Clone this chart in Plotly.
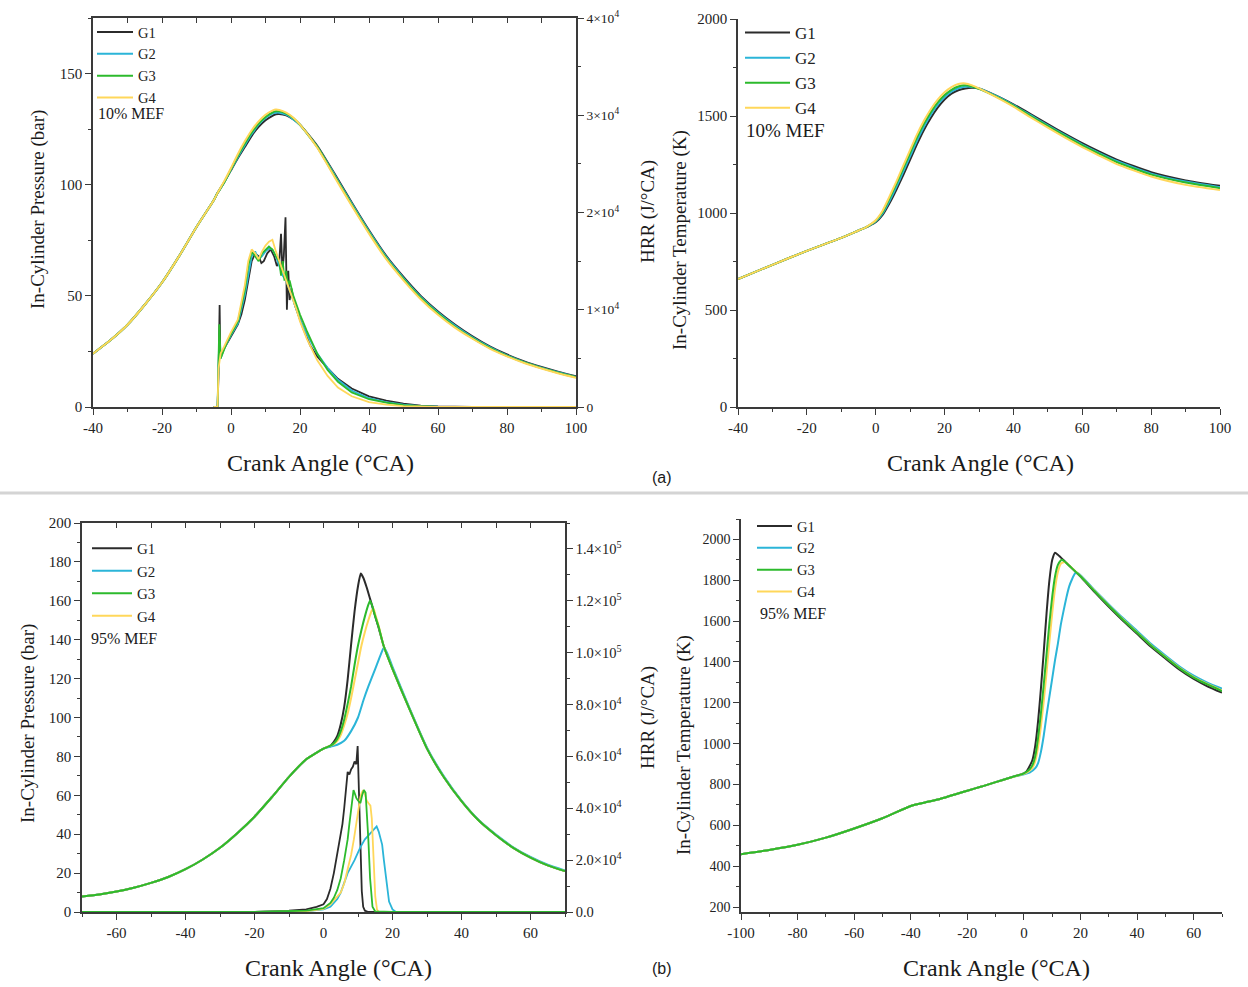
import plotly.graph_objects as go

# ---------------- DATA ----------------
SERIES = ["G1", "G2", "G3", "G4"]
COLORS = {"G1": "#2b2b2b", "G2": "#2bb5d8", "G3": "#2cba2c", "G4": "#ffd75a"}

# (a) 10% MEF - pressure (bar)
ca_p10 = [-40, -35, -30, -25, -20, -15, -10, -5, -4, -2, 0, 2, 4, 6, 8, 10, 12, 13, 14, 16, 18, 20,
          25, 30, 35, 40, 45, 50, 55, 60, 65, 70, 75, 80, 85, 90, 95, 100]
p10_G1 = [24, 30, 37, 46, 56, 68, 81, 93, 96, 101, 106.5, 112, 117, 122, 126, 129, 131, 131.7, 131.8, 131.2, 129.5, 127,
          117.5, 105, 92, 79.5, 68, 58.5, 50, 43, 37, 31.8, 27.3, 23.6, 20.5, 18, 15.8, 13.8]
p10_G2 = [24, 30, 37, 46, 56, 68, 81, 93, 96, 101, 106.8, 112.5, 117.8, 122.8, 127, 130, 132, 132.4, 132.4, 131.5, 129.5, 126.8,
          117, 104.5, 91.5, 79, 67.5, 58, 49.5, 42.5, 36.5, 31.3, 26.9, 23.2, 20.2, 17.7, 15.5, 13.5]
p10_G3 = [24, 30, 37, 46, 56, 68, 81, 93, 96, 101, 107, 113, 118.5, 123.5, 127.5, 130.5, 132.5, 133, 133, 132, 130, 127,
          117, 104, 91, 78.5, 67, 57.5, 49, 42, 36, 31, 26.6, 23, 20, 17.5, 15.3, 13.4]
p10_G4 = [24, 30, 37, 46, 56, 68, 81, 93, 96, 101.5, 107.5, 113.8, 119.5, 124.5, 128.5, 131.5, 133.3, 133.8, 133.6, 132.4, 130.2, 127,
          116.6, 103.5, 90.5, 78, 66.5, 57, 48.5, 41.5, 35.6, 30.7, 26.3, 22.8, 19.8, 17.3, 15.1, 13.2]

# (a) 10% MEF - heat release rate (J/degCA)
ca_h10_G1 = [-5, -3.9, -3.6, -3.3, -3.1, -2.8, -2, -1, 0, 1, 2, 3, 4, 5, 6, 7, 8, 8.8, 9.5, 10.5, 11.5, 12.5, 13.3,
             14, 14.5, 14.9, 15.3, 15.8, 16.2, 16.6, 17, 17.5, 18.5, 19.5, 21, 23, 25, 28, 31, 35, 40, 45, 50, 55,
             60, 70, 80, 100]
h10_G1 = [0, 0, 3500, 10500, 5000, 5500, 6000, 6600, 7200, 7800, 8500, 9500, 11000, 13000, 15000, 15800, 15500,
          14800, 15000, 15800, 16200, 15500, 14500, 15000, 17800, 14000, 15500, 19500, 10000, 14000, 11000, 12200,
          10500, 9500, 8000, 6300, 5200, 4000, 2900, 1900, 1100, 650, 350, 150, 50, 0, 0, 0]
ca_h10_G2 = [-5, -3.9, -3.5, -3, -2, -1, 0, 2, 4, 5, 6, 7, 8, 9, 10, 11, 12, 13, 14, 15, 16, 17, 18, 19, 20, 22,
             25, 28, 31, 35, 40, 45, 50, 55, 60, 70, 100]
h10_G2 = [0, 0, 6000, 5000, 6000, 6700, 7400, 8600, 11500, 13500, 15500, 16000, 15200, 15500, 16000, 16300,
          16200, 15500, 14500, 13500, 13000, 12000, 11000, 10000, 9000, 7500, 5500, 4000, 2800, 1700, 900, 500,
          250, 100, 30, 0, 0]
ca_h10_G3 = [-5, -3.9, -3.6, -3.4, -3, -2, -1, 0, 2, 4, 5, 6, 7, 8, 9, 10, 11, 12, 13, 14, 14.5, 15, 15.5, 16,
             16.5, 17, 18, 19, 20, 22, 25, 28, 31, 35, 40, 45, 50, 55, 60, 70, 100]
h10_G3 = [0, 0, 5000, 8500, 5000, 6000, 6800, 7500, 8800, 12000, 14500, 16000, 15500, 15000, 15800, 16200, 16500,
          16200, 15500, 15000, 13500, 15000, 13000, 14000, 12500, 13000, 11500, 10500, 9500, 7800, 5500, 3800,
          2600, 1500, 800, 450, 200, 80, 20, 0, 0]
ca_h10_G4 = [-5, -3.9, -3.6, -3, -2, -1, 0, 2, 4, 5, 6, 7, 8, 9, 10, 11, 12, 13, 14, 15, 16, 17, 18, 19, 20, 22,
             25, 28, 31, 35, 40, 45, 50, 55, 60, 70, 100]
h10_G4 = [0, 0, 4000, 5500, 6200, 7000, 7700, 9000, 12500, 15000, 16200, 15800, 15200, 16000, 16600, 17000, 17200,
          16000, 15000, 14200, 13000, 12200, 11000, 10000, 8800, 7000, 4800, 3200, 2000, 1100, 500, 250, 100, 40,
          10, 0, 0]

# (a) 10% MEF - temperature (K)
ca_t10 = [-40, -30, -20, -10, -5, -3, -2, 0, 2, 4, 6, 8, 10, 12, 14, 16, 18, 20, 22, 24, 26, 28, 30, 35, 40, 45, 50,
          55, 60, 65, 70, 80, 90, 100]
t10_G1 = [660, 733, 805, 872, 910, 925, 933, 952, 990, 1050, 1120, 1195, 1275, 1355, 1428, 1490, 1543, 1585, 1615,
          1633, 1642, 1645, 1642, 1605, 1560, 1510, 1458, 1408, 1360, 1316, 1275, 1210, 1168, 1140]
t10_G2 = [660, 733, 805, 872, 910, 925, 934, 956, 998, 1062, 1135, 1213, 1293, 1373, 1445, 1507, 1558, 1598, 1626,
          1643, 1651, 1650, 1642, 1603, 1556, 1504, 1452, 1401, 1353, 1309, 1268, 1203, 1162, 1133]
t10_G3 = [660, 733, 805, 872, 910, 925, 935, 960, 1005, 1075, 1150, 1230, 1310, 1390, 1460, 1520, 1570, 1608, 1635,
          1652, 1658, 1652, 1640, 1600, 1553, 1500, 1448, 1397, 1348, 1304, 1262, 1198, 1157, 1128]
t10_G4 = [660, 733, 805, 872, 910, 925, 936, 963, 1012, 1085, 1162, 1244, 1325, 1405, 1475, 1535, 1584, 1622, 1649,
          1665, 1668, 1658, 1642, 1597, 1548, 1493, 1440, 1389, 1340, 1295, 1252, 1188, 1145, 1118]

# (b) 95% MEF - pressure (bar)
ca_p95_G1 = [-70, -65, -60, -55, -50, -45, -40, -35, -30, -25, -20, -15, -10, -5, 0, 2, 3, 4, 5, 6, 7, 8, 9, 10,
             10.8, 11.5, 12.5, 13.5, 15, 16, 17.4, 20, 25, 30, 35, 40, 45, 50, 55, 60, 65, 70]
p95_G1 = [8, 9, 10.5, 12.5, 15, 18, 22, 27, 33, 40.5, 49, 59, 69.5, 78.5, 84, 85.5, 87.5, 90.5, 96.5, 105.5, 119.5,
          137.5, 154.5, 167.5, 174, 172, 167, 161, 152, 146, 137, 125, 104, 84, 69, 57, 47, 39.5, 33, 28, 24, 21]
ca_p95_G2 = [-70, -65, -60, -55, -50, -45, -40, -35, -30, -25, -20, -15, -10, -5, 0, 2, 4, 6, 8, 10, 11.6, 13, 15,
             16.5, 17.5, 18.5, 20, 25, 30, 35, 40, 45, 50, 55, 60, 65, 70]
p95_G2 = [8, 9, 10.5, 12.5, 15, 18, 22, 27, 33, 40.5, 49, 59, 69.5, 78.5, 84, 85, 86, 88, 93, 100, 109, 116, 125,
          132, 136, 133, 126, 104.5, 84.5, 69.5, 57.3, 47.3, 39.8, 33.3, 28.3, 24.3, 21.3]
ca_p95_G3 = [-70, -65, -60, -55, -50, -45, -40, -35, -30, -25, -20, -15, -10, -5, 0, 2, 3, 4, 5, 6, 7, 8, 9, 10, 11,
             12, 13, 13.5, 14, 15, 16, 17.4, 20, 25, 30, 35, 40, 45, 50, 55, 60, 65, 70]
p95_G3 = [8, 9, 10.5, 12.5, 15, 18, 22, 27, 33, 40.5, 49, 59, 69.5, 78.5, 84, 85.5, 86.8, 89, 93, 99, 107, 116, 127,
          137, 145, 152, 158, 160, 158, 152, 146.5, 137, 125, 104, 84, 69, 57, 47, 39.5, 33, 28, 24, 21]
ca_p95_G4 = [-70, -65, -60, -55, -50, -45, -40, -35, -30, -25, -20, -15, -10, -5, 0, 2, 3, 4, 5, 6, 7, 8, 9, 10, 11,
             12, 13, 14, 14.5, 15, 16, 17.4, 20, 25, 30, 35, 40, 45, 50, 55, 60, 65, 70]
p95_G4 = [8, 9, 10.5, 12.5, 15, 18, 22, 27, 33, 40.5, 49, 59, 69.5, 78.5, 84, 85.5, 86.3, 88, 91, 96, 102, 110, 119,
          128, 137, 144, 150, 155, 156, 153, 147, 137, 125, 104, 84, 69, 57, 47, 39.5, 33, 28, 24, 21]

# (b) 95% MEF - heat release rate (J/degCA)
ca_h95_G1 = [-70, -20, -10, -5, -2, 0, 1, 2, 3, 4, 5, 5.5, 6, 6.5, 7, 7.5, 8, 8.5, 9, 9.5, 9.9, 10.3, 10.7, 11.1,
             11.5, 12, 13, 20, 40, 70]
h95_G1 = [0, 0, 500, 1000, 2000, 3000, 5000, 9000, 15000, 22000, 30000, 34000, 40000, 48000, 54000, 53000, 55000,
          56000, 58000, 57000, 64000, 45000, 21000, 8000, 2000, 500, 0, 0, 0, 0]
ca_h95_G2 = [-70, -20, -5, 0, 2, 4, 5, 7, 9, 10.7, 12, 13.6, 14.5, 15.4, 16, 16.5, 17, 17.5, 18, 18.5, 19, 20, 21,
             40, 70]
h95_G2 = [0, 0, 300, 1000, 2000, 5000, 7500, 15000, 20000, 25000, 28000, 30500, 32000, 33000, 31000, 28000, 26000,
          20000, 14000, 8500, 4000, 1000, 0, 0, 0]
ca_h95_G3 = [-70, -20, -5, 0, 2, 3, 4, 5, 6, 7, 7.5, 8, 8.4, 8.7, 9, 9.5, 10, 10.7, 11.2, 11.7, 12.2, 12.6, 13,
             13.5, 14.2, 15, 20, 40, 70]
h95_G3 = [0, 0, 500, 1500, 3500, 5500, 8500, 13000, 20000, 28000, 34000, 40000, 45000, 47000, 46000, 44000, 43000,
          42000, 45000, 47000, 46000, 38000, 28000, 13000, 2000, 200, 0, 0, 0]
ca_h95_G4 = [-70, -20, -5, 0, 2, 4, 5, 6, 7, 8, 8.8, 9.5, 10, 10.7, 11.1, 11.5, 12, 12.5, 13, 13.6, 14, 14.5, 15,
             15.5, 16, 20, 40, 70]
h95_G4 = [0, 0, 300, 1200, 3000, 6000, 7500, 11000, 16000, 22000, 28000, 34000, 39000, 44500, 46000, 47000, 45500,
          43000, 42000, 41000, 36000, 22000, 6000, 1000, 0, 0, 0, 0]

# (b) 95% MEF - temperature (K)
ca_t95_G1 = [-100, -90, -80, -70, -60, -50, -40, -35, -30, -20, -15, -10, -5, 0, 1, 2, 3, 4, 5, 6, 7, 8, 9, 10, 11,
             12, 15, 18, 20, 25, 30, 35, 40, 45, 50, 55, 60, 65, 70]
t95_G1 = [459, 480, 505, 540, 585, 635, 695, 712, 728, 770, 790, 812, 833, 855, 865, 890, 920, 990, 1110, 1270, 1450,
          1640, 1800, 1900, 1935, 1925, 1885, 1845, 1818, 1742, 1670, 1602, 1538, 1473, 1417, 1362, 1317, 1280, 1250]
ca_t95_G2 = [-100, -90, -80, -70, -60, -50, -40, -35, -30, -20, -15, -10, -5, 0, 2, 4, 5, 6, 7, 8, 9, 10, 11, 12,
             13, 14, 15, 16, 17, 18, 18.5, 20, 25, 30, 35, 40, 45, 50, 55, 60, 65, 70]
t95_G2 = [459, 480, 505, 540, 585, 635, 695, 712, 728, 770, 790, 812, 833, 850, 858, 880, 905, 960, 1040, 1140,
          1230, 1320, 1410, 1490, 1580, 1650, 1715, 1770, 1805, 1832, 1838, 1825, 1752, 1682, 1615, 1552, 1488, 1432,
          1378, 1333, 1298, 1270]
ca_t95_G3 = [-100, -90, -80, -70, -60, -50, -40, -35, -30, -20, -15, -10, -5, 0, 2, 3, 4, 5, 6, 7, 8, 9, 10, 11,
             12, 13, 13.4, 15, 18, 20, 25, 30, 35, 40, 45, 50, 55, 60, 65, 70]
t95_G3 = [459, 480, 505, 540, 585, 635, 695, 712, 728, 770, 790, 812, 833, 855, 875, 895, 940, 1030, 1150, 1290,
          1440, 1590, 1720, 1820, 1875, 1897, 1900, 1885, 1845, 1820, 1746, 1675, 1607, 1543, 1479, 1423, 1369, 1324,
          1289, 1258]
ca_t95_G4 = [-100, -90, -80, -70, -60, -50, -40, -35, -30, -20, -15, -10, -5, 0, 2, 3, 4, 5, 6, 7, 8, 9, 10, 11,
             12, 13, 14.3, 15, 18, 20, 25, 30, 35, 40, 45, 50, 55, 60, 65, 70]
t95_G4 = [459, 480, 505, 540, 585, 635, 695, 712, 728, 770, 790, 812, 833, 853, 868, 882, 915, 985, 1085, 1210,
          1350, 1500, 1640, 1760, 1840, 1880, 1890, 1885, 1846, 1821, 1748, 1677, 1609, 1545, 1481, 1425, 1371, 1326,
          1291, 1260]

# Tick labels
ca10_tickvals = [-40, -20, 0, 20, 40, 60, 80, 100]
ca10_ticktext = ["-40", "-20", "0", "20", "40", "60", "80", "100"]
ca95p_tickvals = [-60, -40, -20, 0, 20, 40, 60]
ca95p_ticktext = ["-60", "-40", "-20", "0", "20", "40", "60"]
ca95t_tickvals = [-100, -80, -60, -40, -20, 0, 20, 40, 60]
ca95t_ticktext = ["-100", "-80", "-60", "-40", "-20", "0", "20", "40", "60"]
hrr10_tickvals = [0, 10000, 20000, 30000, 40000]
hrr10_ticktext = ["0", "1×10<sup>4</sup>", "2×10<sup>4</sup>", "3×10<sup>4</sup>", "4×10<sup>4</sup>"]
hrr95_tickvals = [0, 20000, 40000, 60000, 80000, 100000, 120000, 140000]
hrr95_ticktext = ["0.0", "2.0×10<sup>4</sup>", "4.0×10<sup>4</sup>", "6.0×10<sup>4</sup>", "8.0×10<sup>4</sup>",
                  "1.0×10<sup>5</sup>", "1.2×10<sup>5</sup>", "1.4×10<sup>5</sup>"]

# ---------------- FIGURE ----------------
W, H = 1248, 987
def px(x):
    return x / W
def py(y):
    return 1 - y / H

SERIF = "Liberation Serif"
AX = "#3a3a3a"

fig = go.Figure()

def line(x, y, xa, ya, name, legend, show, rank, width=2, shape="spline"):
    fig.add_trace(go.Scatter(x=x, y=y, xaxis=xa, yaxis=ya, mode="lines", name=name,
                             line=dict(color=COLORS[name], width=width, shape=shape, smoothing=0.5),
                             legend=legend, showlegend=show, legendrank=rank, hoverinfo="skip"))

# Panel (a) left
p10 = {"G1": p10_G1, "G2": p10_G2, "G3": p10_G3, "G4": p10_G4}
h10 = {"G1": (ca_h10_G1, h10_G1), "G2": (ca_h10_G2, h10_G2), "G3": (ca_h10_G3, h10_G3), "G4": (ca_h10_G4, h10_G4)}
for i, s in enumerate(SERIES):
    line(ca_p10, p10[s], "x", "y", s, "legend", True, i + 1)
for i, s in enumerate(SERIES):
    line(h10[s][0], h10[s][1], "x", "y2", s, "legend", False, i + 1, 1.8, "linear")

# Panel (a) right
t10 = {"G1": t10_G1, "G2": t10_G2, "G3": t10_G3, "G4": t10_G4}
for i, s in enumerate(SERIES):
    line(ca_t10, t10[s], "x2", "y3", s, "legend2", True, i + 1)

# Panel (b) left  (green drawn last)
order_b = ["G1", "G2", "G4", "G3"]
p95 = {"G1": (ca_p95_G1, p95_G1), "G2": (ca_p95_G2, p95_G2), "G3": (ca_p95_G3, p95_G3), "G4": (ca_p95_G4, p95_G4)}
h95 = {"G1": (ca_h95_G1, h95_G1), "G2": (ca_h95_G2, h95_G2), "G3": (ca_h95_G3, h95_G3), "G4": (ca_h95_G4, h95_G4)}
for s in order_b:
    line(p95[s][0], p95[s][1], "x3", "y4", s, "legend3", True, SERIES.index(s) + 1)
for s in order_b:
    line(h95[s][0], h95[s][1], "x3", "y5", s, "legend3", False, SERIES.index(s) + 1, 1.8, "linear")

# Panel (b) right
t95 = {"G1": (ca_t95_G1, t95_G1), "G2": (ca_t95_G2, t95_G2), "G3": (ca_t95_G3, t95_G3), "G4": (ca_t95_G4, t95_G4)}
for s in order_b:
    line(t95[s][0], t95[s][1], "x4", "y6", s, "legend4", True, SERIES.index(s) + 1)

# empty traces so the top mirror axes are drawn
fig.add_trace(go.Scatter(x=[], y=[], xaxis="x5", yaxis="y", showlegend=False))
fig.add_trace(go.Scatter(x=[], y=[], xaxis="x6", yaxis="y4", showlegend=False))

def base_axis(size=15):
    return dict(showgrid=False, zeroline=False, automargin=False, showline=True, linecolor=AX, linewidth=1.6,
                ticks="outside", ticklen=6, tickwidth=1.4, tickcolor=AX,
                tickfont=dict(family=SERIF, size=size, color="#222"))

def xax(dom, rng, vals, text, anchor, minor_dtick):
    d = base_axis()
    d.update(domain=dom, range=rng, tickmode="array", tickvals=vals, ticktext=text, anchor=anchor,
             minor=dict(ticks="outside", ticklen=3, tickwidth=1.2, tickcolor=AX, tickmode="linear",
                        tick0=0, dtick=minor_dtick))
    return d

def yax(dom, rng, dtick, anchor, minor_dtick, tick0=0, size=15):
    d = base_axis(size)
    d.update(domain=dom, range=rng, dtick=dtick, tick0=tick0, anchor=anchor,
             minor=dict(ticks="outside", ticklen=3, tickwidth=1.2, tickcolor=AX, dtick=minor_dtick))
    return d

def yright(over, anchor, rng, vals, text, minor_dtick, size):
    d = base_axis(size)
    d.update(overlaying=over, side="right", anchor=anchor, range=rng, tickmode="array", tickvals=vals,
             ticktext=text, minor=dict(ticks="outside", ticklen=3, tickwidth=1.2, tickcolor=AX, dtick=minor_dtick))
    return d

def xtop(over, anchor, rng):
    d = base_axis()
    d.update(overlaying=over, side="top", anchor=anchor, range=rng, dtick=10, tick0=0, ticks="inside",
             ticklen=5, showticklabels=False)
    return d

fig.update_layout(
    template="none",
    width=W, height=H, margin=dict(l=0, r=0, t=0, b=0, pad=0, autoexpand=False),
    paper_bgcolor="white", plot_bgcolor="rgba(0,0,0,0)",
    xaxis=xax([px(93), px(576)], [-40, 100], ca10_tickvals, ca10_ticktext, "y", 10),
    yaxis=yax([py(407), py(18)], [0, 175], 50, "x", 25),
    yaxis2=yright("y", "x", [0, 40000], hrr10_tickvals, hrr10_ticktext, 5000, 13.5),
    xaxis5=xtop("x", "y", [-40, 100]),
    xaxis2=xax([px(738), px(1220)], [-40, 100], ca10_tickvals, ca10_ticktext, "y3", 10),
    yaxis3=yax([py(407), py(19)], [0, 2000], 500, "x2", 250),
    xaxis3=xax([px(82), px(565)], [-70, 70], ca95p_tickvals, ca95p_ticktext, "y4", 10),
    yaxis4=yax([py(912), py(523)], [0, 200], 20, "x3", 10),
    yaxis5=yright("y4", "x3", [0, 150000], hrr95_tickvals, hrr95_ticktext, 10000, 14.5),
    xaxis6=xtop("x3", "y4", [-70, 70]),
    xaxis4=xax([px(741), px(1222)], [-100, 70], ca95t_tickvals, ca95t_ticktext, "y6", 10),
    yaxis6=yax([py(912), py(519)], [176, 2100], 200, "x4", 100, tick0=200, size=14),
    showlegend=True,
    legend=dict(x=px(92), y=py(16), xanchor="left", yanchor="top", bgcolor="rgba(0,0,0,0)",
                font=dict(family=SERIF, size=14.5, color="#222"), itemwidth=36, tracegroupgap=0, itemclick=False),
    legend2=dict(x=px(740), y=py(15), xanchor="left", yanchor="top", bgcolor="rgba(0,0,0,0)",
                 font=dict(family=SERIF, size=17, color="#222"), itemwidth=45, itemclick=False),
    legend3=dict(x=px(87), y=py(532), xanchor="left", yanchor="top", bgcolor="rgba(0,0,0,0)",
                 font=dict(family=SERIF, size=15, color="#222"), itemwidth=40, itemclick=False),
    legend4=dict(x=px(752), y=py(510), xanchor="left", yanchor="top", bgcolor="rgba(0,0,0,0)",
                 font=dict(family=SERIF, size=14.5, color="#222"), itemwidth=35, itemclick=False),
)

def ann(x, y, text, size, angle=0, family=SERIF, xanchor="center"):
    fig.add_annotation(x=px(x), y=py(y), xref="paper", yref="paper", text=text, showarrow=False,
                       textangle=angle, xanchor=xanchor, yanchor="middle",
                       font=dict(family=family, size=size, color="#1a1a1a"))

# axis titles
ann(321, 463, "Crank Angle (°CA)", 24)
ann(980, 463, "Crank Angle (°CA)", 24)
ann(338, 968, "Crank Angle (°CA)", 24)
ann(996, 968, "Crank Angle (°CA)", 24)
ann(38, 210, "In-Cylinder Pressure (bar)", 19, -90)
ann(28, 724, "In-Cylinder Pressure (bar)", 19, -90)
ann(648, 212, "HRR (J/°CA)", 19, -90)
ann(648, 718, "HRR (J/°CA)", 19, -90)
ann(680, 240, "In-Cylinder Temperature (K)", 19, -90)
ann(684, 745, "In-Cylinder Temperature (K)", 19, -90)
# condition labels
ann(96, 113, "10% MEF", 16, xanchor="left")
ann(744, 130, "10% MEF", 19, xanchor="left")
ann(89, 638, "95% MEF", 16, xanchor="left")
ann(758, 613, "95% MEF", 16, xanchor="left")
# sub-figure labels
ann(662, 478, "(a)", 16, family="Liberation Sans")
ann(662, 968, "(b)", 16, family="Liberation Sans")

# separator between (a) and (b)
fig.add_shape(type="line", xref="paper", yref="paper", x0=0, x1=1, y0=py(493), y1=py(493),
              line=dict(color="#d4d4d4", width=3))

fig.write_html("out.html")
